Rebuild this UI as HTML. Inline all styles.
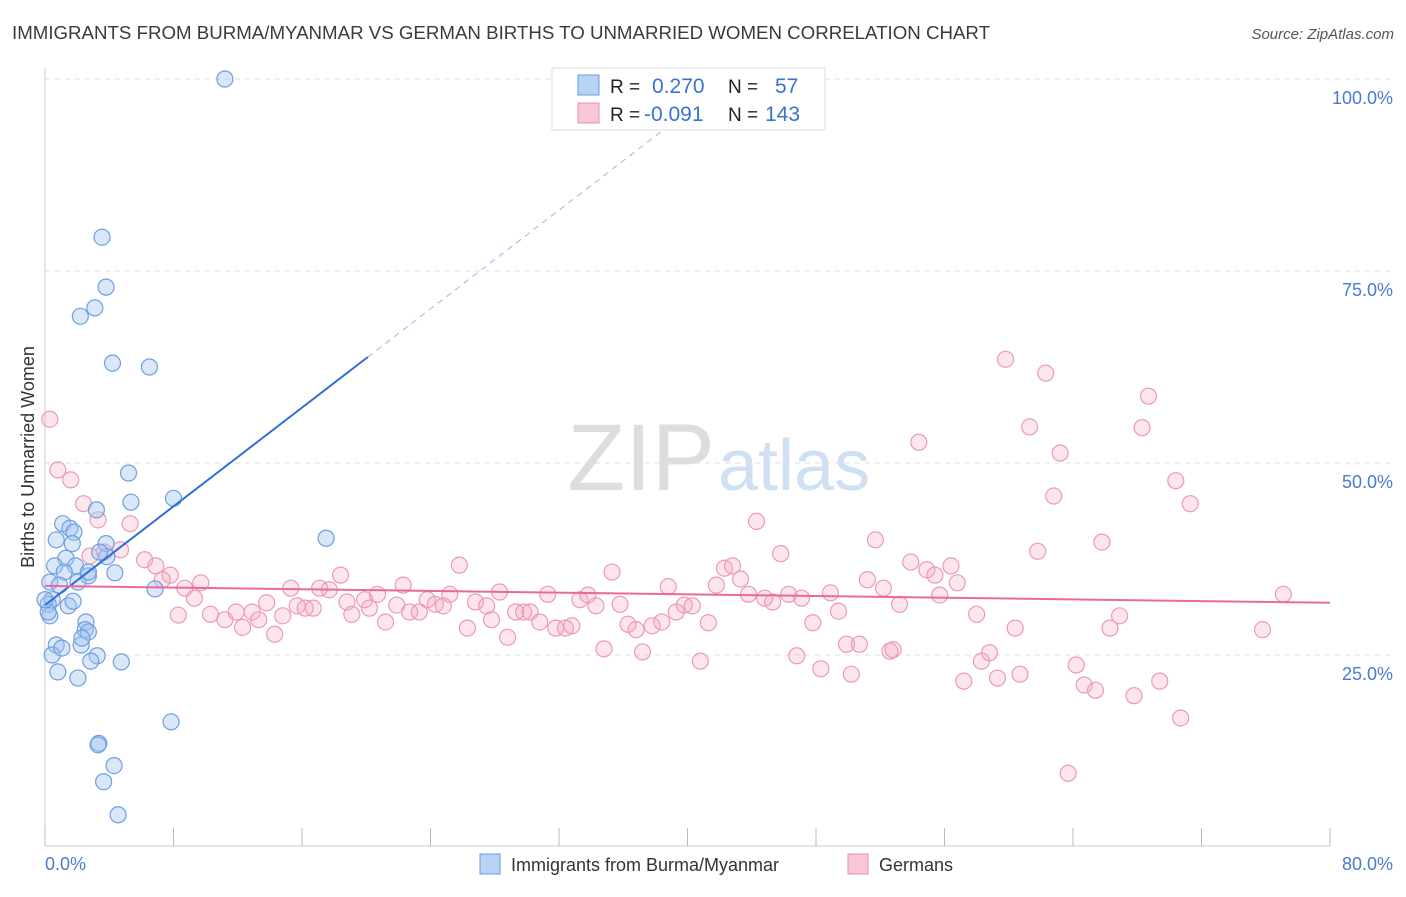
<!DOCTYPE html>
<html><head><meta charset="utf-8"><style>
body{margin:0;background:#fff;font-family:"Liberation Sans",sans-serif;}
svg text{font-family:"Liberation Sans",sans-serif;}
</style></head><body>
<svg id="chart" width="1406" height="892" xmlns="http://www.w3.org/2000/svg">
<text x="12" y="39" font-size="18" textLength="978" lengthAdjust="spacingAndGlyphs" fill="#3a3a3a">IMMIGRANTS FROM BURMA/MYANMAR VS GERMAN BIRTHS TO UNMARRIED WOMEN CORRELATION CHART</text>
<text x="1394" y="39" font-size="15" font-style="italic" fill="#555" text-anchor="end">Source: ZipAtlas.com</text>
<text x="715" y="490" font-size="95" fill="#ddd" text-anchor="end" font-family="Liberation Serif">ZIP</text>
<text x="718" y="490" font-size="72" fill="#cfe0f3">atlas</text>
<g id="grid"></g>
<g id="pts"></g>
<g id="lines"></g>
<text transform="translate(34,457) rotate(-90)" font-size="18" fill="#333" text-anchor="middle">Births to Unmarried Women</text>
<text x="45" y="870" font-size="18" fill="#4a7bd0">0.0%</text>
<text x="1393" y="870" font-size="18" fill="#4a7bd0" text-anchor="end">80.0%</text>
<g>
<rect x="480" y="854" width="20" height="20" fill="#b8d3f4" stroke="#6a9be0"/>
<text x="511" y="871" font-size="18" fill="#333">Immigrants from Burma/Myanmar</text>
<rect x="848" y="854" width="20" height="20" fill="#f8c6d5" stroke="#e890b0"/>
<text x="879" y="871" font-size="18" fill="#333">Germans</text>
</g>
<g>
<rect x="552" y="68" width="273" height="62" fill="#fff" stroke="#ddd"/>
<rect x="578" y="75" width="21" height="20" fill="#b8d3f4" stroke="#6a9be0"/>
<rect x="578" y="103" width="21" height="20" fill="#f8c6d5" stroke="#e890b0"/>
<text x="610" y="93" font-size="19" fill="#222">R =</text>
<text x="652" y="93" font-size="21" fill="#3a72d0">0.270</text>
<text x="728" y="93" font-size="19" fill="#222">N =</text>
<text x="775" y="93" font-size="21" fill="#3a72d0">57</text>
<text x="610" y="121" font-size="19" fill="#222">R =</text>
<text x="644" y="121" font-size="21" fill="#3a72d0">-0.091</text>
<text x="728" y="121" font-size="19" fill="#222">N =</text>
<text x="765" y="121" font-size="21" fill="#3a72d0">143</text>
</g>
</svg>
<script>
const yTicks=[25,50,75,100];
const yTickLabels=["25.0%","50.0%","75.0%","100.0%"];
const xTicks=[0,8,16,24,32,40,48,56,64,72,80];
const burmaX=[11.2,3.55,3.8,2.2,3.1,4.2,6.5,5.2,5.35,8.0,17.5,3.2,1.1,1.55,1.8,0.7,1.7,3.8,1.3,0.6,1.9,4.35,2.7,1.2,0.3,2.05,0.9,3.85,2.7,6.85,0.45,1.45,1.75,0.2,0.3,2.55,0.7,2.5,2.7,2.25,2.3,3.25,0.45,1.05,2.85,4.75,0.8,2.05,7.85,3.35,3.3,4.3,3.65,4.55,0.2,3.4,0.0];
const burmaY=[100,79.4,72.9,69.1,70.2,63.0,62.5,48.7,44.9,45.4,40.2,43.9,42.1,41.5,41.0,40.0,39.5,39.5,37.6,36.6,36.6,35.7,35.3,35.8,34.5,34.5,34.1,37.8,35.8,33.6,32.2,31.4,32.0,31.6,30.1,29.3,26.3,28.3,28.0,26.3,27.2,24.9,25.0,25.9,24.2,24.1,22.8,22.0,16.3,13.5,13.3,10.6,8.5,4.2,30.6,38.4,32.2];
const germanX=[0.3,0.8,1.6,2.4,3.3,5.3,2.8,3.7,4.7,6.2,6.9,7.3,7.8,8.7,9.7,9.3,8.3,10.3,11.2,11.9,12.3,12.9,13.3,13.8,14.3,14.8,15.3,15.7,16.2,16.7,17.1,17.7,18.4,18.8,19.1,19.9,20.2,20.7,21.2,21.9,22.3,22.7,23.3,23.8,24.3,24.8,25.2,25.8,26.3,26.8,27.5,27.8,28.3,28.8,29.3,29.8,30.2,30.8,31.3,31.8,32.4,32.8,33.3,33.8,34.3,34.8,35.3,35.8,36.3,36.8,37.2,37.8,38.4,38.8,39.3,39.8,40.3,40.8,41.3,41.8,42.3,42.8,43.3,43.8,44.3,44.8,45.3,45.8,46.3,46.8,47.1,47.8,48.3,48.9,49.4,49.9,50.2,50.7,51.2,51.7,52.2,52.8,53.2,53.9,54.4,54.9,55.4,55.7,56.4,56.8,57.2,58.0,58.3,58.8,59.3,59.8,60.4,60.7,61.3,61.8,62.3,62.8,63.2,63.7,64.2,64.7,65.4,65.8,66.3,66.9,67.8,68.3,68.7,69.4,70.4,70.7,71.3,75.8,77.1,52.6];
const germanY=[55.7,49.1,47.8,44.7,42.6,42.1,37.9,38.4,38.7,37.4,36.6,34.8,35.4,33.7,34.4,32.4,30.2,30.3,29.6,30.6,28.6,30.6,29.6,31.8,27.7,30.1,33.7,31.4,31.1,31.1,33.7,33.5,35.4,31.9,30.3,32.2,31.1,32.9,29.3,31.5,34.1,30.6,30.6,32.2,31.6,31.4,32.9,36.7,28.5,31.9,31.4,29.6,33.2,27.3,30.6,30.6,30.6,29.3,32.9,28.5,28.5,28.8,32.2,32.8,31.4,25.8,35.8,31.6,29.0,28.3,25.4,28.8,29.3,33.9,30.6,31.5,31.4,24.2,29.2,34.1,36.3,36.6,34.9,32.9,42.4,32.4,31.9,38.2,32.9,24.9,32.4,29.2,23.2,33.1,30.7,26.4,22.5,26.4,34.8,40.0,33.7,25.7,31.6,37.1,52.7,36.1,35.4,32.8,36.6,34.4,21.6,30.3,24.2,25.3,22.0,63.5,28.5,22.5,54.7,38.5,61.7,45.7,51.3,9.6,23.7,21.1,20.4,39.7,28.5,30.1,19.7,54.6,58.7,21.6,47.7,16.8,44.7,28.3,32.9,25.5];
const burmaTrend=[0,31.5,20.1,63.8];
const germanTrend=[0,34.0,80,31.8];

const NS="http://www.w3.org/2000/svg";
const X=v=>45+v/80*1285, Y=v=>847-v/100*768;
function mk(t,a,p){const e=document.createElementNS(NS,t);for(const k in a)e.setAttribute(k,a[k]);p.appendChild(e);return e;}
const grid=document.getElementById('grid');
mk('line',{x1:45,x2:45,y1:68,y2:846,stroke:'#ccc'},grid);
mk('line',{x1:45,x2:1330,y1:846,y2:846,stroke:'#ccc'},grid);
yTicks.forEach((t,i)=>{
 const l=mk('line',{x1:45,x2:1395,y1:Y(t),y2:Y(t),stroke:'#ddd','stroke-dasharray':'5,5'},grid);
 
 
 const tx=mk('text',{x:1393,y:Y(t)+25,'font-size':18,fill:'#4a7bd0','text-anchor':'end'},grid);
 tx.textContent=yTickLabels[i];
 
 
});
xTicks.forEach(t=>{
 const l=mk('line',{x1:X(t),x2:X(t),y1:828,y2:846,stroke:'#bbb'},grid);
 
 
});
const pts=document.getElementById('pts');
germanX.forEach((x,i)=>{
 const c=mk('circle',{cx:X(x),cy:Y(germanY[i]),r:8,fill:'rgba(244,170,196,0.3)',stroke:'#eb9ab8','stroke-width':1.2},pts);
 
 
});
burmaX.forEach((x,i)=>{
 const c=mk('circle',{cx:X(x),cy:Y(burmaY[i]),r:8,fill:'rgba(160,195,240,0.4)',stroke:'#6f9fe0','stroke-width':1.2},pts);
 
 
});
const lines=document.getElementById('lines');
const bs=(burmaTrend[3]-burmaTrend[1])/(burmaTrend[2]-burmaTrend[0]);
const xEnd=burmaTrend[0]+(100-burmaTrend[1])/bs;
let l=mk('line',{x1:X(burmaTrend[0]),y1:Y(burmaTrend[1]),x2:X(burmaTrend[2]),y2:Y(burmaTrend[3]),stroke:'#2f6fd6','stroke-width':2},lines);


l=mk('line',{x1:X(burmaTrend[2]),y1:Y(burmaTrend[3]),x2:X(xEnd),y2:Y(100),stroke:'#9ab8e6','stroke-width':1,'stroke-dasharray':'6,5'},lines);


l=mk('line',{x1:X(germanTrend[0]),y1:Y(germanTrend[1]),x2:X(germanTrend[2]),y2:Y(germanTrend[3]),stroke:'#e86a96','stroke-width':2},lines);


</script>
</body></html>
